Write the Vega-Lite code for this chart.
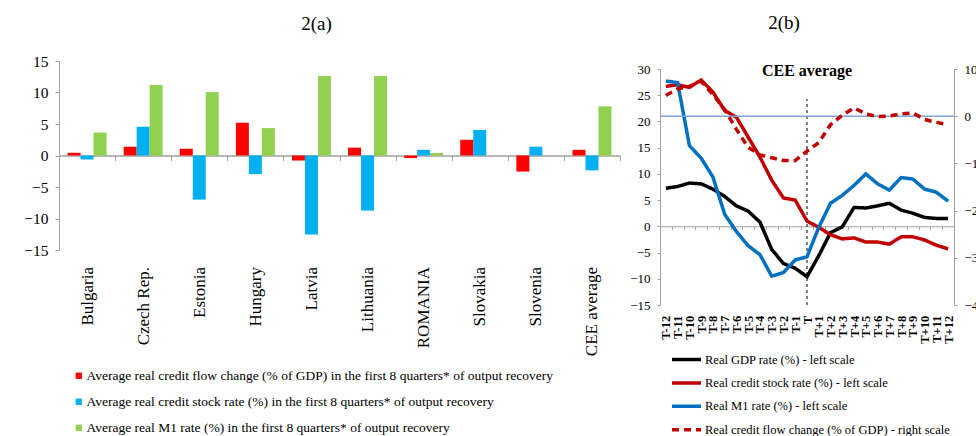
{
  "$schema": "https://vega.github.io/schema/vega-lite/v6.json",
  "padding": {"left": 23, "top": 14, "right": 0, "bottom": 0},
  "spacing": 8,
  "datasets": {
    "a": [
      {"country": "Bulgaria", "measure": "Average real credit flow change (% of GDP)  in the first 8 quarters* of output recovery", "value": 0.43},
      {"country": "Bulgaria", "measure": "Average real credit stock rate (%) in the first 8 quarters* of output recovery", "value": -0.63},
      {"country": "Bulgaria", "measure": "Average real M1 rate (%) in the first 8 quarters* of output recovery", "value": 3.65},
      {"country": "Czech Rep.", "measure": "Average real credit flow change (% of GDP)  in the first 8 quarters* of output recovery", "value": 1.4},
      {"country": "Czech Rep.", "measure": "Average real credit stock rate (%) in the first 8 quarters* of output recovery", "value": 4.55},
      {"country": "Czech Rep.", "measure": "Average real M1 rate (%) in the first 8 quarters* of output recovery", "value": 11.2},
      {"country": "Estonia", "measure": "Average real credit flow change (% of GDP)  in the first 8 quarters* of output recovery", "value": 1.06},
      {"country": "Estonia", "measure": "Average real credit stock rate (%) in the first 8 quarters* of output recovery", "value": -7.0},
      {"country": "Estonia", "measure": "Average real M1 rate (%) in the first 8 quarters* of output recovery", "value": 10.06},
      {"country": "Hungary", "measure": "Average real credit flow change (% of GDP)  in the first 8 quarters* of output recovery", "value": 5.2},
      {"country": "Hungary", "measure": "Average real credit stock rate (%) in the first 8 quarters* of output recovery", "value": -2.95},
      {"country": "Hungary", "measure": "Average real M1 rate (%) in the first 8 quarters* of output recovery", "value": 4.35},
      {"country": "Latvia", "measure": "Average real credit flow change (% of GDP)  in the first 8 quarters* of output recovery", "value": -0.8},
      {"country": "Latvia", "measure": "Average real credit stock rate (%) in the first 8 quarters* of output recovery", "value": -12.55},
      {"country": "Latvia", "measure": "Average real M1 rate (%) in the first 8 quarters* of output recovery", "value": 12.6},
      {"country": "Lithuania", "measure": "Average real credit flow change (% of GDP)  in the first 8 quarters* of output recovery", "value": 1.25},
      {"country": "Lithuania", "measure": "Average real credit stock rate (%) in the first 8 quarters* of output recovery", "value": -8.74},
      {"country": "Lithuania", "measure": "Average real M1 rate (%) in the first 8 quarters* of output recovery", "value": 12.6},
      {"country": "ROMANIA", "measure": "Average real credit flow change (% of GDP)  in the first 8 quarters* of output recovery", "value": -0.4},
      {"country": "ROMANIA", "measure": "Average real credit stock rate (%) in the first 8 quarters* of output recovery", "value": 0.9},
      {"country": "ROMANIA", "measure": "Average real M1 rate (%) in the first 8 quarters* of output recovery", "value": 0.4},
      {"country": "Slovakia", "measure": "Average real credit flow change (% of GDP)  in the first 8 quarters* of output recovery", "value": 2.5},
      {"country": "Slovakia", "measure": "Average real credit stock rate (%) in the first 8 quarters* of output recovery", "value": 4.05},
      {"country": "Slovakia", "measure": "Average real M1 rate (%) in the first 8 quarters* of output recovery", "value": 0},
      {"country": "Slovenia", "measure": "Average real credit flow change (% of GDP)  in the first 8 quarters* of output recovery", "value": -2.55},
      {"country": "Slovenia", "measure": "Average real credit stock rate (%) in the first 8 quarters* of output recovery", "value": 1.4},
      {"country": "Slovenia", "measure": "Average real M1 rate (%) in the first 8 quarters* of output recovery", "value": 0},
      {"country": "CEE average", "measure": "Average real credit flow change (% of GDP)  in the first 8 quarters* of output recovery", "value": 0.9},
      {"country": "CEE average", "measure": "Average real credit stock rate (%) in the first 8 quarters* of output recovery", "value": -2.35},
      {"country": "CEE average", "measure": "Average real M1 rate (%) in the first 8 quarters* of output recovery", "value": 7.8}
    ],
    "b": [
      {"t": "T-12", "s": "Real GDP rate (%) - left scale", "v": 7.25},
      {"t": "T-11", "s": "Real GDP rate (%) - left scale", "v": 7.6},
      {"t": "T-10", "s": "Real GDP rate (%) - left scale", "v": 8.25},
      {"t": "T-9", "s": "Real GDP rate (%) - left scale", "v": 8.1},
      {"t": "T-8", "s": "Real GDP rate (%) - left scale", "v": 7.1},
      {"t": "T-7", "s": "Real GDP rate (%) - left scale", "v": 5.7},
      {"t": "T-6", "s": "Real GDP rate (%) - left scale", "v": 3.9},
      {"t": "T-5", "s": "Real GDP rate (%) - left scale", "v": 2.9},
      {"t": "T-4", "s": "Real GDP rate (%) - left scale", "v": 0.8},
      {"t": "T-3", "s": "Real GDP rate (%) - left scale", "v": -4.4},
      {"t": "T-2", "s": "Real GDP rate (%) - left scale", "v": -7.1},
      {"t": "T-1", "s": "Real GDP rate (%) - left scale", "v": -8.0},
      {"t": "T", "s": "Real GDP rate (%) - left scale", "v": -9.6},
      {"t": "T+1", "s": "Real GDP rate (%) - left scale", "v": -5.6},
      {"t": "T+2", "s": "Real GDP rate (%) - left scale", "v": -1.2},
      {"t": "T+3", "s": "Real GDP rate (%) - left scale", "v": -0.1},
      {"t": "T+4", "s": "Real GDP rate (%) - left scale", "v": 3.6},
      {"t": "T+5", "s": "Real GDP rate (%) - left scale", "v": 3.5},
      {"t": "T+6", "s": "Real GDP rate (%) - left scale", "v": 3.9},
      {"t": "T+7", "s": "Real GDP rate (%) - left scale", "v": 4.4},
      {"t": "T+8", "s": "Real GDP rate (%) - left scale", "v": 3.1},
      {"t": "T+9", "s": "Real GDP rate (%) - left scale", "v": 2.5},
      {"t": "T+10", "s": "Real GDP rate (%) - left scale", "v": 1.7},
      {"t": "T+11", "s": "Real GDP rate (%) - left scale", "v": 1.5},
      {"t": "T+12", "s": "Real GDP rate (%) - left scale", "v": 1.5},
      {"t": "T-12", "s": "Real credit stock rate (%) - left scale", "v": 26.7},
      {"t": "T-11", "s": "Real credit stock rate (%) - left scale", "v": 27.0},
      {"t": "T-10", "s": "Real credit stock rate (%) - left scale", "v": 26.5},
      {"t": "T-9", "s": "Real credit stock rate (%) - left scale", "v": 27.9},
      {"t": "T-8", "s": "Real credit stock rate (%) - left scale", "v": 25.6},
      {"t": "T-7", "s": "Real credit stock rate (%) - left scale", "v": 22.1},
      {"t": "T-6", "s": "Real credit stock rate (%) - left scale", "v": 20.8},
      {"t": "T-5", "s": "Real credit stock rate (%) - left scale", "v": 17.0},
      {"t": "T-4", "s": "Real credit stock rate (%) - left scale", "v": 13.2},
      {"t": "T-3", "s": "Real credit stock rate (%) - left scale", "v": 8.8},
      {"t": "T-2", "s": "Real credit stock rate (%) - left scale", "v": 5.4},
      {"t": "T-1", "s": "Real credit stock rate (%) - left scale", "v": 5.0},
      {"t": "T", "s": "Real credit stock rate (%) - left scale", "v": 1.0},
      {"t": "T+1", "s": "Real credit stock rate (%) - left scale", "v": -0.2},
      {"t": "T+2", "s": "Real credit stock rate (%) - left scale", "v": -1.6},
      {"t": "T+3", "s": "Real credit stock rate (%) - left scale", "v": -2.4},
      {"t": "T+4", "s": "Real credit stock rate (%) - left scale", "v": -2.2},
      {"t": "T+5", "s": "Real credit stock rate (%) - left scale", "v": -3.0},
      {"t": "T+6", "s": "Real credit stock rate (%) - left scale", "v": -3.0},
      {"t": "T+7", "s": "Real credit stock rate (%) - left scale", "v": -3.4},
      {"t": "T+8", "s": "Real credit stock rate (%) - left scale", "v": -2.0},
      {"t": "T+9", "s": "Real credit stock rate (%) - left scale", "v": -2.0},
      {"t": "T+10", "s": "Real credit stock rate (%) - left scale", "v": -2.6},
      {"t": "T+11", "s": "Real credit stock rate (%) - left scale", "v": -3.6},
      {"t": "T+12", "s": "Real credit stock rate (%) - left scale", "v": -4.3},
      {"t": "T-12", "s": "Real M1 rate (%) - left scale", "v": 27.7},
      {"t": "T-11", "s": "Real M1 rate (%) - left scale", "v": 27.4},
      {"t": "T-10", "s": "Real M1 rate (%) - left scale", "v": 15.4},
      {"t": "T-9", "s": "Real M1 rate (%) - left scale", "v": 13.0},
      {"t": "T-8", "s": "Real M1 rate (%) - left scale", "v": 9.4},
      {"t": "T-7", "s": "Real M1 rate (%) - left scale", "v": 2.3},
      {"t": "T-6", "s": "Real M1 rate (%) - left scale", "v": -1.0},
      {"t": "T-5", "s": "Real M1 rate (%) - left scale", "v": -3.7},
      {"t": "T-4", "s": "Real M1 rate (%) - left scale", "v": -5.4},
      {"t": "T-3", "s": "Real M1 rate (%) - left scale", "v": -9.5},
      {"t": "T-2", "s": "Real M1 rate (%) - left scale", "v": -8.8},
      {"t": "T-1", "s": "Real M1 rate (%) - left scale", "v": -6.4},
      {"t": "T", "s": "Real M1 rate (%) - left scale", "v": -5.8},
      {"t": "T+1", "s": "Real M1 rate (%) - left scale", "v": -0.2},
      {"t": "T+2", "s": "Real M1 rate (%) - left scale", "v": 4.4},
      {"t": "T+3", "s": "Real M1 rate (%) - left scale", "v": 5.9},
      {"t": "T+4", "s": "Real M1 rate (%) - left scale", "v": 7.8},
      {"t": "T+5", "s": "Real M1 rate (%) - left scale", "v": 10.0},
      {"t": "T+6", "s": "Real M1 rate (%) - left scale", "v": 8.1},
      {"t": "T+7", "s": "Real M1 rate (%) - left scale", "v": 6.9},
      {"t": "T+8", "s": "Real M1 rate (%) - left scale", "v": 9.3},
      {"t": "T+9", "s": "Real M1 rate (%) - left scale", "v": 9.0},
      {"t": "T+10", "s": "Real M1 rate (%) - left scale", "v": 7.1},
      {"t": "T+11", "s": "Real M1 rate (%) - left scale", "v": 6.5},
      {"t": "T+12", "s": "Real M1 rate (%) - left scale", "v": 4.8},
      {"t": "T-12", "s": "Real credit flow change (% of GDP) - right scale", "v": 4.4},
      {"t": "T-11", "s": "Real credit flow change (% of GDP) - right scale", "v": 5.8},
      {"t": "T-10", "s": "Real credit flow change (% of GDP) - right scale", "v": 6.3},
      {"t": "T-9", "s": "Real credit flow change (% of GDP) - right scale", "v": 7.4},
      {"t": "T-8", "s": "Real credit flow change (% of GDP) - right scale", "v": 4.6},
      {"t": "T-7", "s": "Real credit flow change (% of GDP) - right scale", "v": 1.4},
      {"t": "T-6", "s": "Real credit flow change (% of GDP) - right scale", "v": -2.8},
      {"t": "T-5", "s": "Real credit flow change (% of GDP) - right scale", "v": -6.6},
      {"t": "T-4", "s": "Real credit flow change (% of GDP) - right scale", "v": -8.2},
      {"t": "T-3", "s": "Real credit flow change (% of GDP) - right scale", "v": -8.8},
      {"t": "T-2", "s": "Real credit flow change (% of GDP) - right scale", "v": -9.4},
      {"t": "T-1", "s": "Real credit flow change (% of GDP) - right scale", "v": -9.4},
      {"t": "T", "s": "Real credit flow change (% of GDP) - right scale", "v": -7.4},
      {"t": "T+1", "s": "Real credit flow change (% of GDP) - right scale", "v": -5.6},
      {"t": "T+2", "s": "Real credit flow change (% of GDP) - right scale", "v": -1.8},
      {"t": "T+3", "s": "Real credit flow change (% of GDP) - right scale", "v": 0.2},
      {"t": "T+4", "s": "Real credit flow change (% of GDP) - right scale", "v": 1.75},
      {"t": "T+5", "s": "Real credit flow change (% of GDP) - right scale", "v": 0.5},
      {"t": "T+6", "s": "Real credit flow change (% of GDP) - right scale", "v": -0.1},
      {"t": "T+7", "s": "Real credit flow change (% of GDP) - right scale", "v": 0.05},
      {"t": "T+8", "s": "Real credit flow change (% of GDP) - right scale", "v": 0.5},
      {"t": "T+9", "s": "Real credit flow change (% of GDP) - right scale", "v": 0.7},
      {"t": "T+10", "s": "Real credit flow change (% of GDP) - right scale", "v": -0.7},
      {"t": "T+11", "s": "Real credit flow change (% of GDP) - right scale", "v": -1.3},
      {"t": "T+12", "s": "Real credit flow change (% of GDP) - right scale", "v": -1.8}
    ]
  },
  "resolve": {
    "scale": {"x": "independent", "y": "independent", "color": "independent", "strokeDash": "independent"},
    "legend": {"color": "independent", "strokeDash": "independent"}
  },
  "hconcat": [
    {
      "title": {"text": "2(a)", "fontSize": 19, "offset": 20, "dx": -23},
      "width": 561,
      "height": 189,
      "data": {"name": "a"},
      "mark": {"type": "bar"},
      "encoding": {
        "x": {
          "field": "country", "type": "nominal", "sort": null,
          "scale": {"paddingInner": 0, "paddingOuter": 0},
          "axis": {
            "title": null, "labelAngle": -90, "labelFontSize": 17, "offset": -94.5,
            "labelPadding": 106, "tickBand": "extent", "tickSize": 5,
            "domainColor": "#a0a0a0", "tickColor": "#a0a0a0", "domainWidth": 1.5
          }
        },
        "xOffset": {"field": "measure", "type": "nominal", "sort": null, "scale": {"paddingInner": 0, "paddingOuter": 0.66}},
        "y": {
          "field": "value", "type": "quantitative", "scale": {"domain": [-15, 15]},
          "axis": {
            "title": null, "values": [-15, -10, -5, 0, 5, 10, 15], "labelFontSize": 15.5, "labelOverlap": false,
            "tickSize": 4, "labelPadding": 7, "domainColor": "#a0a0a0", "tickColor": "#a0a0a0"
          }
        },
        "color": {
          "field": "measure", "type": "nominal", "sort": null,
          "scale": {"range": ["#ff0000", "#00b0f0", "#92d050"]},
          "legend": {
            "title": null, "orient": "none", "legendX": 13, "legendY": 308, "direction": "vertical",
            "symbolType": "square", "symbolSize": 40, "labelFontSize": 13.5, "labelLimit": 700,
            "rowPadding": 11, "labelOffset": 1
          }
        }
      }
    },
    {
      "spacing": 1,
      "resolve": {"scale": {"color": "independent", "strokeDash": "independent"}, "legend": {"color": "independent", "strokeDash": "independent"}},
      "vconcat": [
        {
          "title": {"text": "2(b)", "fontSize": 19, "offset": 28, "dx": -23},
          "width": 294,
          "height": 1,
          "data": {"values": []},
          "mark": {"type": "rule", "opacity": 0},
          "encoding": {}
        },
        {
          "title": {"text": "CEE average", "fontSize": 16, "fontWeight": "bold", "offset": -16, "frame": "group"},
          "width": 294,
          "height": 236,
          "resolve": {"scale": {"y": "independent"}, "axis": {"y": "independent"}},
          "layer": [
            {
              "layer": [
                {
                  "data": {"values": [{"t": "T", "lo": -15, "hi": 24.3}]},
                  "mark": {"type": "rule", "color": "black", "strokeWidth": 1, "strokeDash": [3, 3]},
                  "encoding": {
                    "x": {"field": "t", "type": "ordinal", "scale": {"domain": ["T-12","T-11","T-10","T-9","T-8","T-7","T-6","T-5","T-4","T-3","T-2","T-1","T","T+1","T+2","T+3","T+4","T+5","T+6","T+7","T+8","T+9","T+10","T+11","T+12"], "paddingInner": 0, "paddingOuter": 0},
                      "axis": {"title": null, "labelAngle": -90, "labelFontSize": 12.5, "labelFontWeight": "bold", "offset": -78.7, "labelPadding": 86, "tickSize": 3, "tickBand": "extent", "domainColor": "#a0a0a0", "tickColor": "#a0a0a0", "labelOverlap": false}},
                    "y": {"field": "lo", "type": "quantitative", "scale": {"domain": [-15, 30]},
                      "axis": {"title": null, "orient": "left", "values": [-15, -10, -5, 0, 5, 10, 15, 20, 25, 30], "labelOverlap": false, "labelFontSize": 13, "tickSize": 3, "labelPadding": 7, "domainColor": "#a0a0a0", "tickColor": "#a0a0a0"}},
                    "y2": {"field": "hi"}
                  }
                },
                {
                  "data": {"name": "b"},
                  "transform": [{"filter": "indexof(datum.s, 'left scale') >= 0"}],
                  "mark": {"type": "line", "strokeWidth": 3.5},
                  "encoding": {
                    "x": {"field": "t", "type": "ordinal", "scale": {"domain": ["T-12","T-11","T-10","T-9","T-8","T-7","T-6","T-5","T-4","T-3","T-2","T-1","T","T+1","T+2","T+3","T+4","T+5","T+6","T+7","T+8","T+9","T+10","T+11","T+12"], "paddingInner": 0, "paddingOuter": 0},
                      "axis": {"title": null, "labelAngle": -90, "labelFontSize": 12.5, "labelFontWeight": "bold", "offset": -78.7, "labelPadding": 86, "tickSize": 3, "tickBand": "extent", "domainColor": "#a0a0a0", "tickColor": "#a0a0a0", "labelOverlap": false}},
                    "y": {"field": "v", "type": "quantitative", "scale": {"domain": [-15, 30]},
                      "axis": {"title": null, "orient": "left", "values": [-15, -10, -5, 0, 5, 10, 15, 20, 25, 30], "labelOverlap": false, "labelFontSize": 13, "tickSize": 3, "labelPadding": 7, "domainColor": "#a0a0a0", "tickColor": "#a0a0a0"}},
                    "color": {
                      "field": "s", "type": "nominal",
                      "scale": {"domain": ["Real GDP rate (%) - left scale", "Real credit stock rate (%) - left scale", "Real M1 rate (%) - left scale", "Real credit flow change (% of GDP) - right scale"], "range": ["#000000", "#c00000", "#0070c0", "#c00000"]},
                      "legend": {"title": null, "orient": "none", "legendX": 17.5, "legendY": 281.5, "direction": "vertical", "symbolType": "M-2,0H2", "symbolSize": 210, "symbolStrokeWidth": 3.5, "labelFontSize": 12.5, "labelLimit": 500, "rowPadding": 7.4, "labelOffset": 9.5}
                    },
                    "strokeDash": {
                      "field": "s", "type": "nominal",
                      "scale": {"domain": ["Real GDP rate (%) - left scale", "Real credit stock rate (%) - left scale", "Real M1 rate (%) - left scale", "Real credit flow change (% of GDP) - right scale"], "range": [[1, 0], [1, 0], [1, 0], [7, 5]]},
                      "legend": {"title": null, "orient": "none", "legendX": 17.5, "legendY": 281.5, "direction": "vertical", "symbolType": "M-2,0H2", "symbolSize": 210, "symbolStrokeWidth": 3.5, "labelFontSize": 12.5, "labelLimit": 500, "rowPadding": 7.4, "labelOffset": 9.5}
                    }
                  }
                }
              ]
            },
            {
              "layer": [
                {
                  "data": {"values": [{"z": 0}]},
                  "mark": {"type": "rule", "color": "#7ea6d8", "strokeWidth": 1.5},
                  "encoding": {
                    "y": {"field": "z", "type": "quantitative", "scale": {"domain": [-40, 10]},
                      "axis": {"title": null, "orient": "right", "values": [-40, -30, -20, -10, 0, 10], "labelOverlap": false, "labelFontSize": 13, "tickSize": 3, "labelPadding": 7, "domainColor": "#a0a0a0", "tickColor": "#a0a0a0"}}
                  }
                },
                {
                  "data": {"name": "b"},
                  "transform": [{"filter": "indexof(datum.s, 'right scale') >= 0"}],
                  "mark": {"type": "line", "strokeWidth": 3.5},
                  "encoding": {
                    "x": {"field": "t", "type": "ordinal", "scale": {"domain": ["T-12","T-11","T-10","T-9","T-8","T-7","T-6","T-5","T-4","T-3","T-2","T-1","T","T+1","T+2","T+3","T+4","T+5","T+6","T+7","T+8","T+9","T+10","T+11","T+12"], "paddingInner": 0, "paddingOuter": 0},
                      "axis": {"title": null, "labelAngle": -90, "labelFontSize": 12.5, "labelFontWeight": "bold", "offset": -78.7, "labelPadding": 86, "tickSize": 3, "tickBand": "extent", "domainColor": "#a0a0a0", "tickColor": "#a0a0a0", "labelOverlap": false}},
                    "y": {"field": "v", "type": "quantitative", "scale": {"domain": [-40, 10]},
                      "axis": {"title": null, "orient": "right", "values": [-40, -30, -20, -10, 0, 10], "labelOverlap": false, "labelFontSize": 13, "tickSize": 3, "labelPadding": 7, "domainColor": "#a0a0a0", "tickColor": "#a0a0a0"}},
                    "color": {"field": "s", "type": "nominal"},
                    "strokeDash": {"field": "s", "type": "nominal"}
                  }
                }
              ]
            }
          ]
        }
      ]
    }
  ],
  "config": {
    "font": "Liberation Serif",
    "view": {"stroke": null},
    "title": {"font": "Liberation Serif", "fontWeight": "normal", "color": "black"},
    "axis": {"labelFont": "Liberation Serif", "labelColor": "black", "grid": false},
    "legend": {"labelFont": "Liberation Serif", "labelColor": "black"}
  }
}
